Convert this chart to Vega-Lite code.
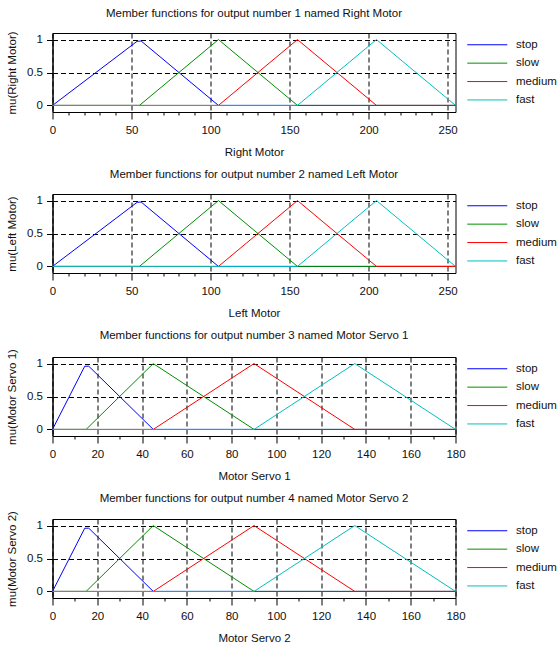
{
  "$schema": "https://vega.github.io/schema/vega-lite/v6.json",
  "padding": {"left": 5.5, "top": 7, "right": 0, "bottom": 0},
  "config": {
    "font": "Liberation Sans",
    "view": {"stroke": "black", "strokeWidth": 1},
    "title": {"fontSize": 11.5, "fontWeight": "normal", "color": "#111", "frame": "group"},
    "axis": {
      "domainColor": "black", "tickColor": "black", "gridColor": "black", "gridDash": [5, 3], "gridWidth": 1,
      "labelFontSize": 11.5, "labelColor": "#111", "titleFontSize": 11.5, "titleFontWeight": "normal", "titleColor": "#111",
      "labelOverlap": false
    },
    "axisX": {"labelPadding": 5, "titlePadding": 10.5, "labelFlush": false},
    "axisY": {"tickSize": 6, "labelPadding": 4, "titlePadding": 9},
    "legend": {
      "title": null, "symbolType": "M-4,0H4", "symbolSize": 100, "symbolStrokeWidth": 2,
      "labelFontSize": 11.5, "labelColor": "#111", "labelOffset": 23, "rowPadding": 5.4, "offset": 17.5, "padding": 6
    },
    "line": {"strokeWidth": 1}
  },
  "datasets": {
    "mf": [
      {"p": 1, "set": "stop", "x": 0, "mu": 0}, {"p": 1, "set": "stop", "x": 53.55, "mu": 0.974}, {"p": 1, "set": "stop", "x": 56.1, "mu": 0.978}, {"p": 1, "set": "stop", "x": 105, "mu": 0}, {"p": 1, "set": "stop", "x": 255, "mu": 0},
      {"p": 1, "set": "slow", "x": 0, "mu": 0}, {"p": 1, "set": "slow", "x": 55, "mu": 0}, {"p": 1, "set": "slow", "x": 105, "mu": 1}, {"p": 1, "set": "slow", "x": 155, "mu": 0}, {"p": 1, "set": "slow", "x": 255, "mu": 0},
      {"p": 1, "set": "medium", "x": 0, "mu": 0}, {"p": 1, "set": "medium", "x": 105, "mu": 0}, {"p": 1, "set": "medium", "x": 155, "mu": 1}, {"p": 1, "set": "medium", "x": 205, "mu": 0}, {"p": 1, "set": "medium", "x": 255, "mu": 0},
      {"p": 1, "set": "fast", "x": 0, "mu": 0}, {"p": 1, "set": "fast", "x": 155, "mu": 0}, {"p": 1, "set": "fast", "x": 205, "mu": 1}, {"p": 1, "set": "fast", "x": 255, "mu": 0},
      {"p": 2, "set": "stop", "x": 0, "mu": 0}, {"p": 2, "set": "stop", "x": 53.55, "mu": 0.974}, {"p": 2, "set": "stop", "x": 56.1, "mu": 0.978}, {"p": 2, "set": "stop", "x": 105, "mu": 0}, {"p": 2, "set": "stop", "x": 255, "mu": 0},
      {"p": 2, "set": "slow", "x": 0, "mu": 0}, {"p": 2, "set": "slow", "x": 55, "mu": 0}, {"p": 2, "set": "slow", "x": 105, "mu": 1}, {"p": 2, "set": "slow", "x": 155, "mu": 0}, {"p": 2, "set": "slow", "x": 255, "mu": 0},
      {"p": 2, "set": "medium", "x": 0, "mu": 0}, {"p": 2, "set": "medium", "x": 105, "mu": 0}, {"p": 2, "set": "medium", "x": 155, "mu": 1}, {"p": 2, "set": "medium", "x": 205, "mu": 0}, {"p": 2, "set": "medium", "x": 255, "mu": 0},
      {"p": 2, "set": "fast", "x": 0, "mu": 0}, {"p": 2, "set": "fast", "x": 155, "mu": 0}, {"p": 2, "set": "fast", "x": 205, "mu": 1}, {"p": 2, "set": "fast", "x": 255, "mu": 0},
      {"p": 3, "set": "stop", "x": 0, "mu": 0}, {"p": 3, "set": "stop", "x": 14.4, "mu": 0.96}, {"p": 3, "set": "stop", "x": 16.2, "mu": 0.96}, {"p": 3, "set": "stop", "x": 45, "mu": 0}, {"p": 3, "set": "stop", "x": 180, "mu": 0},
      {"p": 3, "set": "slow", "x": 0, "mu": 0}, {"p": 3, "set": "slow", "x": 15, "mu": 0}, {"p": 3, "set": "slow", "x": 45, "mu": 1}, {"p": 3, "set": "slow", "x": 90, "mu": 0}, {"p": 3, "set": "slow", "x": 180, "mu": 0},
      {"p": 3, "set": "medium", "x": 0, "mu": 0}, {"p": 3, "set": "medium", "x": 45, "mu": 0}, {"p": 3, "set": "medium", "x": 90, "mu": 1}, {"p": 3, "set": "medium", "x": 135, "mu": 0}, {"p": 3, "set": "medium", "x": 180, "mu": 0},
      {"p": 3, "set": "fast", "x": 0, "mu": 0}, {"p": 3, "set": "fast", "x": 90, "mu": 0}, {"p": 3, "set": "fast", "x": 135, "mu": 1}, {"p": 3, "set": "fast", "x": 180, "mu": 0},
      {"p": 4, "set": "stop", "x": 0, "mu": 0}, {"p": 4, "set": "stop", "x": 14.4, "mu": 0.96}, {"p": 4, "set": "stop", "x": 16.2, "mu": 0.96}, {"p": 4, "set": "stop", "x": 45, "mu": 0}, {"p": 4, "set": "stop", "x": 180, "mu": 0},
      {"p": 4, "set": "slow", "x": 0, "mu": 0}, {"p": 4, "set": "slow", "x": 15, "mu": 0}, {"p": 4, "set": "slow", "x": 45, "mu": 1}, {"p": 4, "set": "slow", "x": 90, "mu": 0}, {"p": 4, "set": "slow", "x": 180, "mu": 0},
      {"p": 4, "set": "medium", "x": 0, "mu": 0}, {"p": 4, "set": "medium", "x": 45, "mu": 0}, {"p": 4, "set": "medium", "x": 90, "mu": 1}, {"p": 4, "set": "medium", "x": 135, "mu": 0}, {"p": 4, "set": "medium", "x": 180, "mu": 0},
      {"p": 4, "set": "fast", "x": 0, "mu": 0}, {"p": 4, "set": "fast", "x": 90, "mu": 0}, {"p": 4, "set": "fast", "x": 135, "mu": 1}, {"p": 4, "set": "fast", "x": 180, "mu": 0}
    ]
  },
  "data": {"name": "mf"},
  "spacing": 10,
  "resolve": {"scale": {"x": "independent", "y": "independent", "color": "independent"}, "legend": {"color": "independent"}},
  "vconcat": [
    {
      "width": 403, "height": 79,
      "title": {"text": "Member functions for output number 1 named Right Motor", "offset": 11.5},
      "transform": [{"filter": "datum.p == 1"}],
      "mark": {"type": "line", "strokeWidth": 1},
      "encoding": {
        "x": {"field": "x", "type": "quantitative", "scale": {"domain": [0, 255], "nice": false, "zero": false},
          "axis": {"title": "Right Motor", "values": [0,10,20,30,40,50,60,70,80,90,100,110,120,130,140,150,160,170,180,190,200,210,220,230,240,250],
            "labelExpr": "datum.value % 50 == 0 ? datum.label : ''",
            "tickSize": {"condition": {"test": "datum.value % 50 == 0", "value": 7}, "value": 3},
            "gridOpacity": {"condition": {"test": "datum.value % 50 == 0", "value": 1}, "value": 0}}},
        "y": {"field": "mu", "type": "quantitative", "scale": {"domain": [-0.1, 1.1], "nice": false, "zero": false},
          "axis": {"title": "mu(Right Motor)", "values": [0, 0.5, 1], "format": "~g"}},
        "color": {"field": "set", "type": "nominal", "sort": null,
          "scale": {"domain": ["stop", "slow", "medium", "fast"], "range": ["#0000ff", "#008f00", "#ff0000", "#00c0c0"]}}
      }
    },
    {
      "width": 403, "height": 79,
      "title": {"text": "Member functions for output number 2 named Left Motor", "offset": 13.5},
      "transform": [{"filter": "datum.p == 2"}],
      "mark": {"type": "line", "strokeWidth": 1},
      "encoding": {
        "x": {"field": "x", "type": "quantitative", "scale": {"domain": [0, 255], "nice": false, "zero": false},
          "axis": {"title": "Left Motor", "values": [0,10,20,30,40,50,60,70,80,90,100,110,120,130,140,150,160,170,180,190,200,210,220,230,240,250],
            "labelExpr": "datum.value % 50 == 0 ? datum.label : ''",
            "tickSize": {"condition": {"test": "datum.value % 50 == 0", "value": 7}, "value": 3},
            "gridOpacity": {"condition": {"test": "datum.value % 50 == 0", "value": 1}, "value": 0}}},
        "y": {"field": "mu", "type": "quantitative", "scale": {"domain": [-0.1, 1.1], "nice": false, "zero": false},
          "axis": {"title": "mu(Left Motor)", "values": [0, 0.5, 1], "format": "~g"}},
        "color": {"field": "set", "type": "nominal", "sort": null,
          "scale": {"domain": ["stop", "slow", "medium", "fast"], "range": ["#0000ff", "#008f00", "#ff0000", "#00c0c0"]}}
      }
    },
    {
      "width": 403, "height": 79,
      "title": {"text": "Member functions for output number 3 named Motor Servo 1", "offset": 7},
      "transform": [{"filter": "datum.p == 3"}],
      "mark": {"type": "line", "strokeWidth": 1},
      "encoding": {
        "x": {"field": "x", "type": "quantitative", "scale": {"domain": [0, 180], "nice": false, "zero": false},
          "axis": {"title": "Motor Servo 1", "values": [0,10,20,30,40,50,60,70,80,90,100,110,120,130,140,150,160,170,180],
            "labelExpr": "datum.value % 20 == 0 ? datum.label : ''",
            "tickSize": {"condition": {"test": "datum.value % 20 == 0", "value": 7}, "value": 3},
            "gridOpacity": {"condition": {"test": "datum.value % 20 == 0", "value": 1}, "value": 0}}},
        "y": {"field": "mu", "type": "quantitative", "scale": {"domain": [-0.1, 1.1], "nice": false, "zero": false},
          "axis": {"title": "mu(Motor Servo 1)", "values": [0, 0.5, 1], "format": "~g"}},
        "color": {"field": "set", "type": "nominal", "sort": null,
          "scale": {"domain": ["stop", "slow", "medium", "fast"], "range": ["#0000ff", "#008f00", "#ff0000", "#00c0c0"]}}
      }
    },
    {
      "width": 403, "height": 79,
      "title": {"text": "Member functions for output number 4 named Motor Servo 2", "offset": 6},
      "transform": [{"filter": "datum.p == 4"}],
      "mark": {"type": "line", "strokeWidth": 1},
      "encoding": {
        "x": {"field": "x", "type": "quantitative", "scale": {"domain": [0, 180], "nice": false, "zero": false},
          "axis": {"title": "Motor Servo 2", "values": [0,10,20,30,40,50,60,70,80,90,100,110,120,130,140,150,160,170,180],
            "labelExpr": "datum.value % 20 == 0 ? datum.label : ''",
            "tickSize": {"condition": {"test": "datum.value % 20 == 0", "value": 7}, "value": 3},
            "gridOpacity": {"condition": {"test": "datum.value % 20 == 0", "value": 1}, "value": 0}}},
        "y": {"field": "mu", "type": "quantitative", "scale": {"domain": [-0.1, 1.1], "nice": false, "zero": false},
          "axis": {"title": "mu(Motor Servo 2)", "values": [0, 0.5, 1], "format": "~g"}},
        "color": {"field": "set", "type": "nominal", "sort": null,
          "scale": {"domain": ["stop", "slow", "medium", "fast"], "range": ["#0000ff", "#008f00", "#ff0000", "#00c0c0"]}}
      }
    }
  ]
}
